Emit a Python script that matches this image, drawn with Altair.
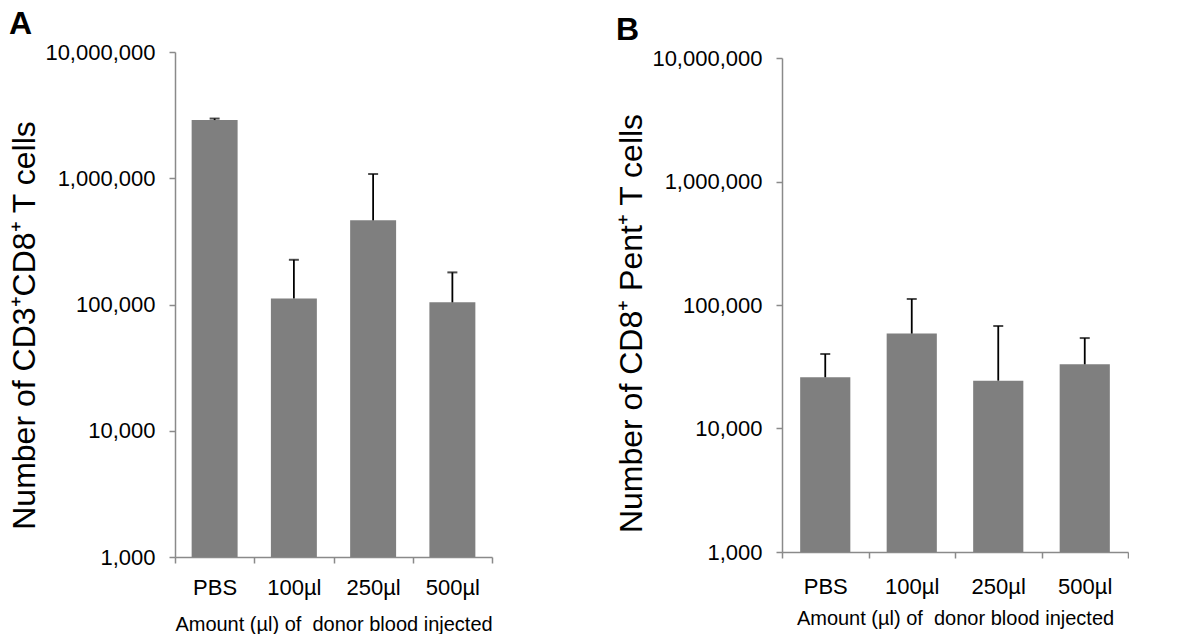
import altair as alt
import pandas as pd

groups = ["PBS", "100µl", "250µl", "500µl"]
a_mean = [2890000, 111700, 464000, 104000]
a_upper = [2970000, 226000, 1080000, 179600]
b_mean = [26000, 58700, 24400, 33100]
b_upper = [40100, 111900, 67600, 54000]
y_ticks = [1000, 10000, 100000, 1000000, 10000000]

FONT = "Liberation Sans"
BAR = "#7f7f7f"
AXIS = "#8a8a8a"
XTITLE = "Amount (µl) of\u00a0 donor blood injected"


def panel(means, uppers, letter, ytitle, width, height, xlab_pad, xtitle_pad,
          ytitle_pad, ytitle_y):
    df = pd.DataFrame({"group": groups, "mean": means, "upper": uppers,
                       "base": [1000] * len(groups)})
    xs = alt.Scale(paddingInner=0, paddingOuter=0)
    x = alt.X("group:N", sort=groups, scale=xs,
              axis=alt.Axis(title=XTITLE, labelAngle=0, tickBand="extent",
                            labelPadding=xlab_pad, titlePadding=xtitle_pad,
                            labelFontSize=22, titleFontSize=20))
    ys = alt.Scale(type="log", domain=[1000, 10000000], nice=False)
    y = alt.Y("mean:Q", scale=ys,
              axis=alt.Axis(values=y_ticks, format=",", title=ytitle,
                            labelPadding=14, titlePadding=ytitle_pad,
                            labelFontSize=22, titleFontSize=32,
                            titleY=ytitle_y))
    base = alt.Chart(df)
    bars = base.mark_bar(color=BAR, width=alt.RelativeBandSize(0.58)).encode(
        x=x, y=y, y2="base:Q")
    err = base.mark_rule(color="black", strokeWidth=1.8).encode(
        x=alt.X("group:N", sort=groups), y="mean:Q", y2="upper:Q")
    cap = base.mark_tick(color="black", size=10, thickness=2).encode(
        x=alt.X("group:N", sort=groups), y="upper:Q")
    return alt.layer(bars, err, cap).properties(
        width=width, height=height,
        title=alt.TitleParams(letter, anchor="start", frame="bounds",
                              fontSize=32, fontWeight="bold", font=FONT,
                              color="black", offset=0))


pa = panel(a_mean, a_upper, "A", "Number of CD3⁺CD8⁺ T cells", 317, 505,
           14, 16, 3, 273)
pb = panel(b_mean, b_upper, "B", "Number of CD8⁺ Pent⁺ T cells", 346, 494,
           18, 11, 3, 265)

chart = alt.hconcat(pa, pb, spacing=122, center=True).properties(
    padding=0
).configure_view(stroke=None).configure_axis(
    grid=False, domainColor=AXIS, tickColor=AXIS, domainWidth=1.5,
    tickWidth=1.5, tickSize=6, labelColor="black", titleColor="black",
    labelFont=FONT, titleFont=FONT, titleFontWeight="normal"
)

chart.save("out.html", embed_options={"renderer": "svg", "actions": False})
